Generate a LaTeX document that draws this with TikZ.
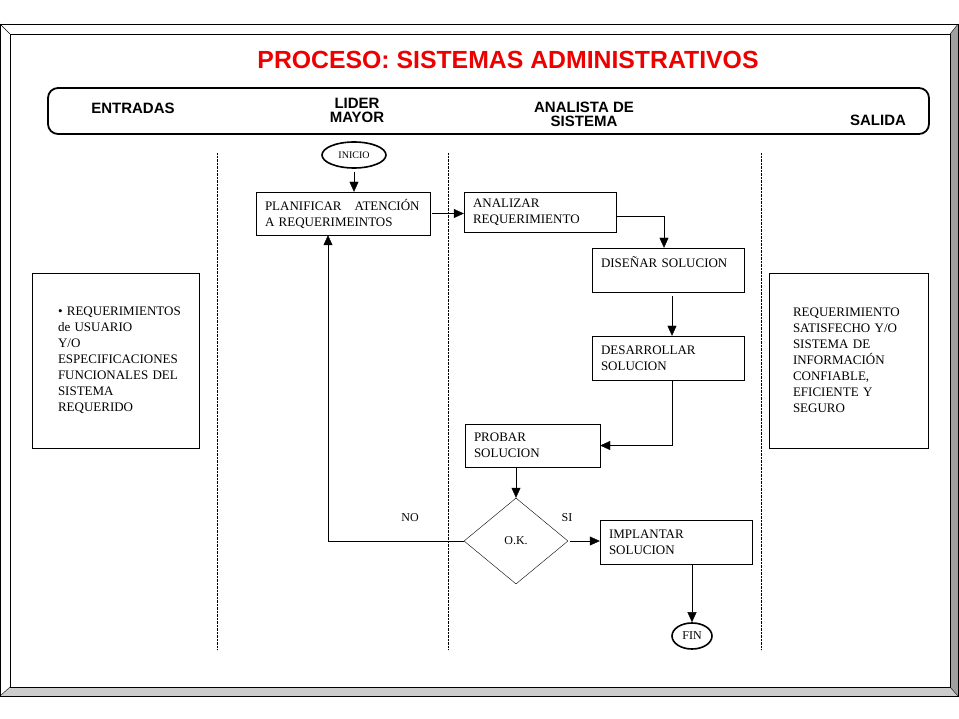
\documentclass[tikz,border=0pt]{standalone}
\usepackage{fontspec}
\setmainfont{Liberation Serif}
\setsansfont{Liberation Sans}
\usetikzlibrary{arrows.meta,shapes.geometric}
\definecolor{titlered}{RGB}{237,0,0}
\definecolor{bevelgray}{RGB}{160,160,160}
\definecolor{bevellight}{RGB}{204,204,204}
\tikzset{
  proc/.style={draw, thin, align=left, inner xsep=9pt, inner ysep=0pt, font=\fontsize{13}{16}\selectfont},
  term/.style={draw, ellipse, line width=1.6pt, inner sep=0pt},
  lanehead/.style={font=\sffamily\bfseries\fontsize{15}{14}\selectfont, align=center},
  flow/.style={-{Triangle[length=10pt,width=9pt]}},
}
\begin{document}
\begin{tikzpicture}[x=1pt,y=-1pt]
  \useasboundingbox (0,0) rectangle (959,719);
  % marco
  \fill[bevelgray] (950,34)--(958,24)--(958,696)--(950,687)--cycle;
  \fill[bevellight] (10,687)--(950,687)--(958,696)--(0,696)--cycle;
  \draw (0,24) rectangle (958,696);
  \draw (10,34) rectangle (950,687);
  \draw (0,24)--(10,34) (958,24)--(950,34) (0,696)--(10,687) (958,696)--(950,687);

  \node[text=titlered, font=\sffamily\bfseries\fontsize{24.8}{28}\selectfont] (title) at (508,60) {PROCESO: SISTEMAS ADMINISTRATIVOS};

  \draw[line width=1.8pt, rounded corners=10pt] (48,88) rectangle (929,134);
  \node[lanehead] (entradas) at (133,108) {ENTRADAS};
  \node[lanehead] (lider) at (357,110) {LIDER\\MAYOR};
  \node[lanehead] (analista) at (584,114) {ANALISTA DE\\SISTEMA};
  \node[lanehead] (salida) at (878,120) {SALIDA};

  \foreach \x in {217,448,761}
    \draw[densely dotted, thin] (\x,153) -- (\x,650);

  \node[term, minimum width=64pt, minimum height=26pt, font=\fontsize{10}{12}\selectfont] (inicio) at (354,155) {INICIO};
  \node[proc, minimum width=174pt, minimum height=43pt, text width=156pt] (plan) at (343,213.5) {PLANIFICAR\ \ \ ATENCIÓN\\A REQUERIMEINTOS};
  \node[proc, minimum width=152pt, minimum height=40pt, text width=134pt] (anal) at (540,212) {ANALIZAR\\REQUERIMIENTO};
  \node[proc, minimum width=152pt, minimum height=44pt, text width=134pt] (dise) at (668,270) {DISEÑAR SOLUCION\\~};
  \node[proc, minimum width=152pt, minimum height=44pt, text width=134pt] (desa) at (668,358) {DESARROLLAR\\SOLUCION};
  \node[proc, minimum width=135pt, minimum height=43pt, text width=117pt] (prob) at (532.5,445.5) {PROBAR\\SOLUCION};
  \node[draw, thin, diamond, minimum width=104pt, minimum height=86pt, inner sep=0pt, font=\fontsize{12}{14}\selectfont] (ok) at (516,541) {O.K.};
  \node[proc, minimum width=152pt, minimum height=44pt, text width=134pt] (impl) at (676,542) {IMPLANTAR\\SOLUCION};
  \node[term, minimum width=40pt, minimum height=26pt, font=\fontsize{12}{14}\selectfont] (fin) at (692,636) {FIN};

  \node[proc, inner xsep=26pt, text width=115pt, minimum height=175pt] (entr) at (115.5,360.5) {\mbox{• REQUERIMIENTOS}\\de USUARIO\\Y/O\\\mbox{ESPECIFICACIONES}\\\mbox{FUNCIONALES DEL}\\SISTEMA\\REQUERIDO};
  \node[proc, inner xsep=24pt, text width=111pt, minimum height=175pt] (sal) at (848.5,360.5) {\mbox{REQUERIMIENTO}\\\mbox{SATISFECHO Y/O}\\SISTEMA DE\\INFORMACIÓN\\CONFIABLE,\\EFICIENTE Y\\SEGURO};

  \node[font=\fontsize{12}{14}\selectfont] (no) at (410,518) {NO};
  \node[font=\fontsize{12}{14}\selectfont] (si) at (567,518) {SI};

  \draw[flow, shorten <=3pt] (inicio.south) -- (inicio.south |- plan.north);
  \draw[flow, shorten <=2pt] (plan.east) -- (plan.east -| anal.west);
  \draw[flow] ([yshift=-4pt]anal.east) -| ([xshift=-4pt]dise.north);
  \draw[flow, shorten <=4pt] ([xshift=4pt]dise.south) -- ([xshift=4pt]desa.north);
  \draw[flow] ([xshift=4pt]desa.south) |- (prob.east);
  \draw[flow] (ok.north |- prob.south) -- (ok.north);
  \draw[flow, shorten <=2pt] (ok.east) -- (ok.east -| impl.west);
  \draw[flow] (ok.west) -| ([xshift=-15pt]plan.south);
  \draw[flow] (fin.north |- impl.south) -- (fin.north);
\end{tikzpicture}
\end{document}
